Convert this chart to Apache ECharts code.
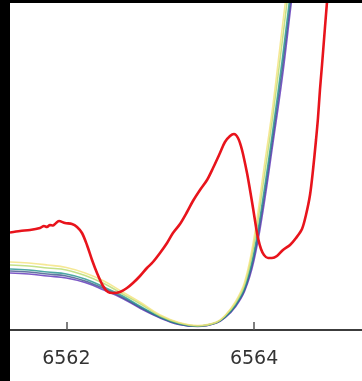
<!DOCTYPE html>
<html>
<head>
<meta charset="utf-8">
<script src="https://cdn.jsdelivr.net/npm/echarts@6/dist/echarts.min.js"></script>
<style>
  html, body { margin: 0; padding: 0; background: #000; }
  #chart { position: absolute; left: 10px; top: 3px; width: 352px; height: 378px; background: #fff; }
</style>
</head>
<body>
<div id="chart"></div>
<script>
// Pre-edge region of the absorption spectra (energy in eV, intensity in arbitrary units)
const tickLabels = [6562, 6564];

// Shared energy grid for the reference spectra
const refEnergy = [6561.4, 6561.6, 6561.8, 6562.0, 6562.2, 6562.4, 6562.6, 6562.8, 6563.0, 6563.2,
                   6563.4, 6563.6, 6563.7, 6563.8, 6563.9, 6564.0, 6564.1, 6564.2, 6564.3, 6564.4, 6564.5];

const refPurple = [57, 56, 54, 52, 47.5, 40, 31.5, 21, 12, 5.5, 3.5, 7, 13, 23, 39, 70, 122, 186, 252, 330, 405];
const refBlue   = [59, 58, 56, 54, 49, 41.5, 32.5, 22, 12.5, 5.9, 3.7, 7.2, 13.5, 24, 40.5, 74, 128.5, 193, 261, 338, 413];
const refTeal   = [61, 60, 58, 56, 51, 43, 34, 23, 13, 6.2, 3.9, 7.4, 13.9, 24.8, 42.2, 78, 135, 200, 270, 347, 421];
const refGreen  = [65, 64, 62, 60, 54.5, 46.5, 36, 25.5, 14, 7, 4, 7.5, 15, 26.5, 45.5, 86, 148, 214, 288, 365, 438];
const refYellow = [68, 67, 65, 62.5, 57, 49, 38, 27, 15, 7.5, 4.5, 8, 15.5, 28, 48, 92, 158, 224, 302, 378, 450];

// Measured sample spectrum
const sampleEnergy = [6561.400, 6561.507, 6561.613, 6561.720, 6561.762, 6561.794, 6561.826, 6561.858, 6561.879,
  6561.922, 6561.986, 6562.060, 6562.114, 6562.167, 6562.220, 6562.274, 6562.327, 6562.391, 6562.444,
  6562.497, 6562.572, 6562.646, 6562.710, 6562.785, 6562.859, 6562.923, 6562.998, 6563.073, 6563.136,
  6563.211, 6563.286, 6563.349, 6563.424, 6563.499, 6563.563, 6563.637, 6563.690, 6563.744, 6563.786,
  6563.829, 6563.872, 6563.925, 6563.957, 6563.989, 6564.021, 6564.042, 6564.074, 6564.106, 6564.149,
  6564.191, 6564.244, 6564.308, 6564.383, 6564.447, 6564.511, 6564.553, 6564.596, 6564.628, 6564.660,
  6564.681, 6564.702, 6564.724, 6564.745, 6564.766, 6564.788];
const sampleValue = [97.5, 99, 100, 102, 104, 103, 105, 104.5, 106,
  109, 107, 106, 103, 97, 85, 70, 57, 44, 38,
  37, 38, 42, 47, 54, 62, 68, 77, 87, 97,
  106, 118, 129, 140, 150, 162, 177, 188, 194, 196,
  192, 180, 157, 140, 122, 103, 92, 81, 75, 72,
  72, 74, 80, 85, 92, 101, 115, 135, 160, 190,
  212, 240, 265, 290, 315, 340];

const refSeries = [
  { name: 'ref 1', values: refPurple, color: '#5b2fb8' },
  { name: 'ref 2', values: refBlue,   color: '#3b528b' },
  { name: 'ref 3', values: refTeal,   color: '#21918c' },
  { name: 'ref 4', values: refGreen,  color: '#b5d96a' },
  { name: 'ref 5', values: refYellow, color: '#f2e27a' }
];

const series = refSeries.map(s => ({
  name: s.name,
  type: 'line',
  data: refEnergy.map((e, i) => [e, s.values[i]]),
  smooth: 0.4,
  showSymbol: false,
  clip: true,
  lineStyle: { color: s.color, width: 1.6, opacity: 0.8 },
  z: 2
}));

series.push({
  name: 'sample',
  type: 'line',
  data: sampleEnergy.map((e, i) => [e, sampleValue[i]]),
  smooth: 0.3,
  showSymbol: false,
  clip: true,
  lineStyle: { color: '#e8141c', width: 2.6 },
  z: 3
});

const chart = echarts.init(document.getElementById('chart'), null, { renderer: 'canvas' });
chart.setOption({
  animation: false,
  backgroundColor: '#fff',
  grid: { left: 0, right: 0, top: 0, bottom: 51, containLabel: false, outerBoundsMode: 'none' },
  xAxis: {
    type: 'value',
    min: 6561.4,
    max: 6565.15,
    splitLine: { show: false },
    axisLine: { show: true, lineStyle: { color: '#3c3c3c', width: 2.2 } },
    axisTick: { show: true, inside: true, length: 8, customValues: tickLabels, lineStyle: { color: '#555', width: 1.5 } },
    axisLabel: {
      show: true,
      customValues: tickLabels,
      margin: 20,
      fontSize: 19,
      color: '#333',
      fontFamily: 'DejaVu Sans',
      formatter: v => String(v)
    }
  },
  yAxis: {
    type: 'value',
    min: 0,
    max: 327,
    show: false,
    splitLine: { show: false }
  },
  series: series
});
</script>
</body>
</html>
